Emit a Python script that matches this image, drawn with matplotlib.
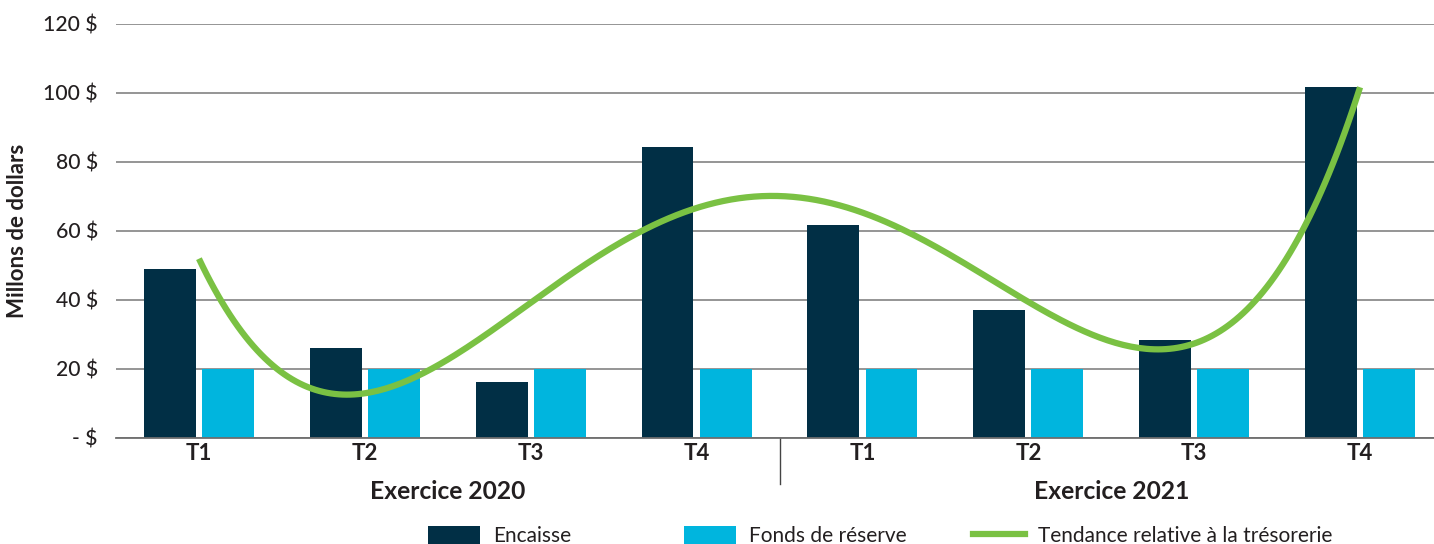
import numpy as np
import matplotlib
matplotlib.use("Agg")
import matplotlib.pyplot as plt
from matplotlib.patches import Patch
from matplotlib.lines import Line2D
from matplotlib.transforms import blended_transform_factory

plt.rcParams['font.family'] = ['Lato', 'DejaVu Sans']

quarters = ["T1", "T2", "T3", "T4", "T1", "T2", "T3", "T4"]
years = ["Exercice 2020", "Exercice 2021"]
encaisse = [49, 26, 16, 84.3, 61.6, 37, 28.2, 101.6]
fonds = [20, 20, 20, 20, 20, 20, 20, 20]
y_ticks = [0, 20, 40, 60, 80, 100, 120]
y_labels = ["- $", "20 $", "40 $", "60 $", "80 $", "100 $", "120 $"]
trend_order = 4

NAVY = "#012f45"
CYAN = "#00b5de"
GREEN = "#7ac143"
TXT = "#231f20"

W, H = 1434, 544
fig = plt.figure(figsize=(W / 100, H / 100), dpi=100)
ax = fig.add_axes([116 / W, (H - 437.5) / H, 1327 / W, 413.8 / H])

x = np.arange(len(quarters))
bw = 0.313
ax.bar(x - 0.175, encaisse, bw, color=NAVY, zorder=3)
ax.bar(x + 0.175, fonds, bw, color=CYAN, zorder=3)

# polynomial trend line fitted to the cash balance
coef = np.polyfit(x, encaisse, trend_order)
xs = np.linspace(x[0], x[-1], 300)
ax.plot(xs, np.polyval(coef, xs), color=GREEN, lw=4.5, zorder=4,
        solid_capstyle='butt')

ax.set_xlim(-0.5, 7.5)
ax.set_ylim(0, 120)
ax.set_yticks(y_ticks)
ax.set_yticklabels(y_labels, fontsize=15.2, fontweight='medium', color=TXT)
ax.set_xticks(x)
ax.set_xticklabels(quarters, fontsize=16, fontweight='bold', color=TXT)
ax.tick_params(axis='y', length=0, pad=13)
ax.tick_params(axis='x', length=0, pad=4)
ax.grid(axis='y', color="#8c8c8c", lw=1.3, zorder=0)
for s in ["top", "right", "left"]:
    ax.spines[s].set_visible(False)
ax.spines["bottom"].set_color("#6e6e6e")
ax.spines["bottom"].set_linewidth(1.3)
ax.spines["bottom"].set_zorder(5)

ax.set_ylabel("Millons de dollars", fontsize=16, fontweight='bold', color=TXT)
ax.yaxis.set_label_coords(-0.0663, 0.5)

tr = blended_transform_factory(ax.transData, ax.transAxes)
ax.plot([3.5, 3.5], [0, -0.112], transform=tr, color="#444444", lw=1, clip_on=False)
for xc, year in zip([1.5, 5.5], years):
    ax.text(xc, -0.131, year, transform=tr, ha='center', va='center',
            fontsize=17.7, fontweight='bold', color=TXT)

# legend entries laid out along the bottom edge
entries = [
    (Patch(facecolor=NAVY), "Encaisse", 428),
    (Patch(facecolor=CYAN), "Fonds de réserve", 684),
    (Line2D([], [], color=GREEN, lw=4.5), "Tendance relative à la trésorerie", 973),
]
fs_leg = 15
for handle, label, px in entries:
    fig.legend([handle], [label], loc='center left',
               bbox_to_anchor=(px / W, (H - 536) / H), frameon=False,
               borderpad=0, borderaxespad=0,
               handlelength=52 / (fs_leg * 100 / 72),
               handleheight=1.0, handletextpad=13 / (fs_leg * 100 / 72),
               fontsize=fs_leg, labelcolor=TXT)

fig.savefig("out.png", dpi=100)
